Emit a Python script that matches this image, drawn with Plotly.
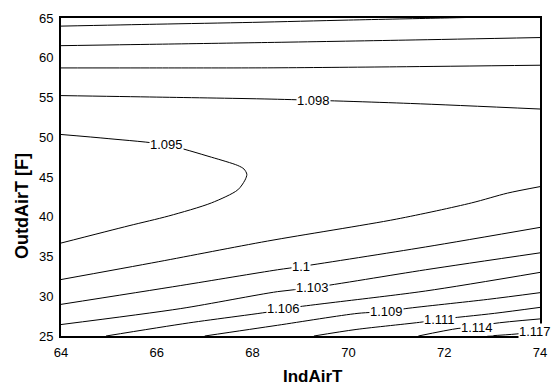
import plotly.graph_objects as go

# ---- contour line data ----
# upper branches
c1106_up_x = [64.0, 66.0, 68.0, 70.0, 72.0, 72.6]
c1106_up_y = [63.98, 64.22, 64.45, 64.74, 65.0, 65.08]

c1103_up_x = [64.0, 66.0, 68.31, 71.2, 74.0]
c1103_up_y = [61.52, 61.70, 61.92, 62.22, 62.54]

c1100_up_x = [64.0, 66.0, 68.31, 71.0, 74.0]
c1100_up_y = [58.72, 58.72, 58.73, 58.86, 59.06]

c1098_up_x = [64.0, 66.0, 68.52, 71.3, 74.0]
c1098_up_y = [55.24, 55.05, 54.78, 54.25, 53.55]

c1095_x = [64.0, 65.0, 66.2, 67.14, 67.69, 67.82, 67.88, 67.84, 67.69, 67.14, 66.25, 65.42, 64.0]
c1095_y = [50.35, 49.82, 49.04, 47.49, 46.45, 46.0, 45.34, 44.6, 43.38, 41.74, 40.10, 38.87, 36.69]

# lower branches
c1098_lo_x = [64.0, 66.04, 68.31, 71.0, 72.57, 73.32, 74.0]
c1098_lo_y = [32.10, 34.35, 36.94, 39.70, 41.74, 42.97, 43.79]

c1100_lo_x = [64.0, 66.5, 68.52, 69.01, 71.61, 74.0]
c1100_lo_y = [28.98, 31.35, 33.33, 33.74, 36.20, 38.66]

c1103_lo_x = [64.0, 66.5, 68.52, 69.24, 71.61, 74.0]
c1103_lo_y = [26.44, 28.45, 30.58, 31.07, 33.33, 35.46]

c1106_lo_x = [64.94, 66.66, 68.52, 68.65, 71.61, 74.0]
c1106_lo_y = [25.0, 26.64, 28.20, 28.41, 30.66, 33.0]

c1109_x = [67.0, 68.52, 70.2, 70.79, 71.2, 72.9, 74.0]
c1109_y = [25.0, 26.35, 27.85, 28.08, 28.45, 29.60, 30.45]

c1111_x = [69.28, 70.16, 71.54, 71.90, 73.05, 74.0]
c1111_y = [25.0, 25.82, 26.76, 27.09, 27.85, 28.60]

c1114_x = [71.46, 72.29, 72.68, 73.02, 74.0]
c1114_y = [25.0, 25.95, 26.11, 26.56, 27.15]

c1117_x = [72.9, 73.5, 74.0]
c1117_y = [25.0, 25.25, 25.6]

# contour labels: text and where they sit on the lines
label_text = ["1.095", "1.098", "1.1", "1.103", "1.106", "1.109", "1.111", "1.114", "1.117"]
label_x = [66.2, 69.27, 69.01, 69.24, 68.65, 70.79, 71.90, 72.68, 73.90]
label_y = [49.04, 54.58, 33.74, 31.07, 28.41, 28.08, 27.09, 26.11, 25.53]

x_ticks = [64, 66, 68, 70, 72, 74]
y_ticks = [25, 30, 35, 40, 45, 50, 55, 60, 65]
x_title = "IndAirT"
y_title = "OutdAirT [F]"

lines = [
    (c1106_up_x, c1106_up_y), (c1103_up_x, c1103_up_y), (c1100_up_x, c1100_up_y),
    (c1098_up_x, c1098_up_y), (c1095_x, c1095_y), (c1098_lo_x, c1098_lo_y),
    (c1100_lo_x, c1100_lo_y), (c1103_lo_x, c1103_lo_y), (c1106_lo_x, c1106_lo_y),
    (c1109_x, c1109_y), (c1111_x, c1111_y), (c1114_x, c1114_y), (c1117_x, c1117_y),
]

FONT = "Liberation Sans, Arial, Helvetica, sans-serif"

fig = go.Figure()
for xs, ys in lines:
    fig.add_trace(go.Scatter(
        x=xs, y=ys, mode="lines",
        line=dict(color="black", width=1, shape="spline", smoothing=0.8),
        hoverinfo="skip", showlegend=False,
    ))

annotations = []
for t, lx, ly in zip(label_text, label_x, label_y):
    annotations.append(dict(
        x=lx, y=ly, xref="x", yref="y", text=t, showarrow=False,
        font=dict(family=FONT, size=13, color="black"),
        bgcolor="white", borderpad=0, xanchor="center", yanchor="middle",
    ))

annotations.append(dict(
    x=0.527, y=-0.126, xref="paper", yref="paper", text="<b>%s</b>" % x_title,
    showarrow=False, font=dict(family=FONT, size=17, color="black"),
    xanchor="center", yanchor="middle",
))
annotations.append(dict(
    x=-0.0814, y=0.409, xref="paper", yref="paper", text="<b>%s</b>" % y_title,
    showarrow=False, textangle=-90, font=dict(family=FONT, size=18, color="black"),
    xanchor="center", yanchor="middle",
))

fig.update_layout(
    width=558, height=389,
    margin=dict(l=61, r=12, t=11, b=53),
    paper_bgcolor="white", plot_bgcolor="white",
    font=dict(family=FONT, size=13, color="black"),
    annotations=annotations,
    xaxis=dict(
        range=[64, 74], tickmode="array", tickvals=x_ticks,
        ticktext=[str(v) for v in x_ticks],
        showgrid=False, zeroline=False, showline=True, mirror=True,
        linecolor="black", linewidth=2, ticks="", ticklabelstandoff=3,
        tickfont=dict(family=FONT, size=13, color="black"),
    ),
    yaxis=dict(
        range=[25, 65], tickmode="array", tickvals=y_ticks,
        ticktext=[str(v) for v in y_ticks],
        showgrid=False, zeroline=False, showline=True, mirror=True,
        linecolor="black", linewidth=2, ticks="", ticklabelstandoff=3,
        tickfont=dict(family=FONT, size=13, color="black"),
    ),
)

fig.write_html("out.html")
